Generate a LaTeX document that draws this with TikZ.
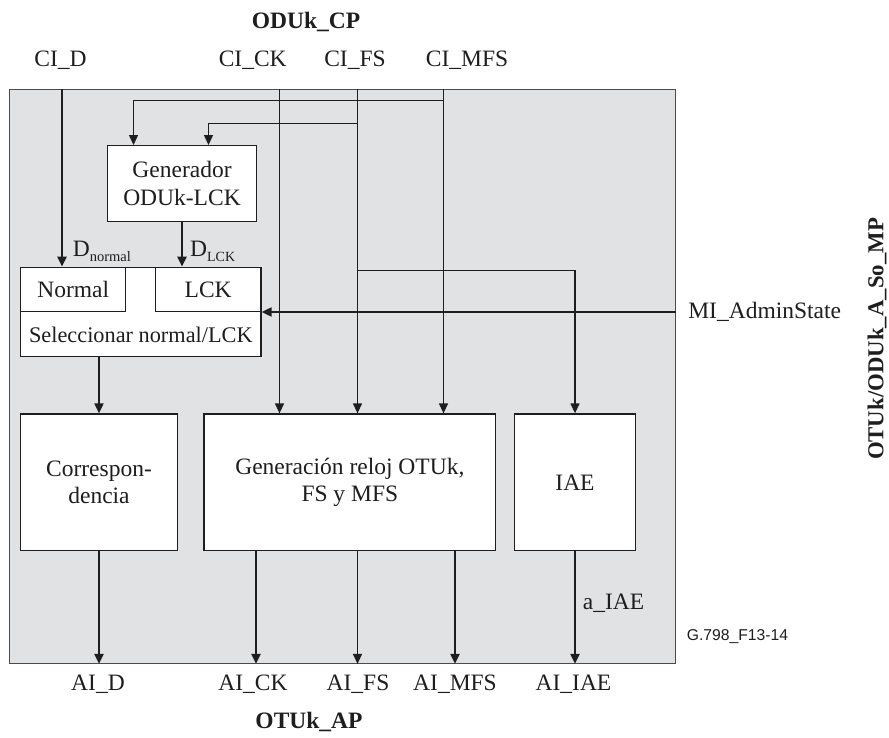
\documentclass[tikz,border=0pt]{standalone}
\usepackage{fontspec}
\setmainfont{Liberation Serif}
\newfontfamily\sansf{Liberation Sans}
\usetikzlibrary{arrows.meta}
\definecolor{bg}{RGB}{225,226,228}
\definecolor{ln}{RGB}{30,30,30}
\begin{document}
\begin{tikzpicture}[x=1pt,y=-1pt,
  every node/.style={font=\fontsize{23.5}{27.5}\selectfont, inner sep=0pt, text=ln},
  blk/.style={draw=ln, line width=1.3pt, fill=white, align=center},
  thn/.style={line width=1.3pt, draw=ln},
  arr/.style={thn, -{Triangle[length=10pt,width=9pt]}},
  thk/.style={line width=2pt, draw=ln, -{Triangle[length=10pt,width=9pt]}},
  bld/.style={font=\fontsize{23.5}{27.5}\selectfont\bfseries}]
\useasboundingbox (0,0) rectangle (889,738);

% outer frame
\node[draw=ln!80, line width=1.2pt, fill=bg, minimum width=666pt, minimum height=574pt] (outer) at (342.7,376.3) {};

% blocks
\node[blk, minimum width=149.6pt, minimum height=75.6pt] (gen) at (182,183.5) {Generador\\ODUk-LCK};
\node[blk, minimum width=240.3pt, minimum height=89.4pt] (sel) at (140.85,312) {};
\node[blk, minimum width=105pt, minimum height=44.4pt] (normal) at (73.2,289.5) {Normal};
\node[blk, minimum width=105.7pt, minimum height=44.4pt] (lck) at (208.15,289.5) {LCK};
\node[font=\fontsize{22.3}{26}\selectfont] (seltext) at (140.85,334.5) {Seleccionar normal/LCK};
\node[blk, minimum width=157.6pt, minimum height=136.6pt] (corr) at (99,482.3) {Correspon-\\dencia};
\node[blk, minimum width=291.7pt, minimum height=136.6pt] (genclk) at (349.85,482.3) {Generación reloj OTUk,\\FS y MFS};
\node[blk, minimum width=120.7pt, minimum height=136.6pt] (iae) at (575,482.3) {IAE};

% labels
\node[bld] (odukcp) at (306,21.7) {ODUk\_CP};
\node (cid) at (60.5,60) {CI\_D};
\node (cck) at (252.7,60) {CI\_CK};
\node (cfs) at (355,60) {CI\_FS};
\node (cmfs) at (467,60) {CI\_MFS};
\node (aid) at (98,684) {AI\_D};
\node (ack) at (253,684) {AI\_CK};
\node (afs) at (358,684) {AI\_FS};
\node (amfs) at (455,684) {AI\_MFS};
\node (aiae) at (573.5,684) {AI\_IAE};
\node[bld] (otukap) at (309,722) {OTUk\_AP};
\node (mi) at (764.7,312) {MI\_AdminState};
\node[font=\fontsize{22.8}{25}\selectfont\bfseries, rotate=90] (mp) at (877,339) {OTUk/ODUk\_A\_So\_MP};
\node[anchor=west] (aiaelbl) at (582.7,603.3) {a\_IAE};
\node[anchor=west, font=\sansf\fontsize{15.7}{18}\selectfont] (gfig) at (686.7,636.7) {G.798\_F13-14};
\node[anchor=base west] (dn) at (72.7,257) {D\raisebox{-4.5pt}{\fontsize{14.5}{15}\selectfont normal}};
\node[anchor=base west] (dl) at (190,257) {D\raisebox{-4.5pt}{\fontsize{14}{15}\selectfont LCK}};

% entry points on the frame
\coordinate (tD) at (62,89.3);
\coordinate (tCK) at (279.5,89.3);
\coordinate (tFS) at (357.5,89.3);
\coordinate (tMFS) at (443.5,89.3);
\coordinate (b1) at (443.5,100.5);
\coordinate (b2) at (357.5,123.5);
\coordinate (b3) at (357.5,270.5);

% connectors
\draw[thk] (tD) -- (tD |- sel.north);
\draw[arr] (tCK) -- (tCK |- genclk.north);
\draw[arr] (tFS) -- (tFS |- genclk.north);
\draw[arr] (tMFS) -- (tMFS |- genclk.north);
\draw[arr] (b1) -| ([xshift=-48.5pt]gen.north);
\draw[arr] (b2) -| ([xshift=26.5pt]gen.north);
\draw[arr] (b3) -| (iae.north);
\draw[thk] (outer.east |- sel.east) -- (sel.east);
\draw[thk] (gen.south) -- (gen.south |- lck.north);
\draw[thk] (sel.south -| corr.north) -- (corr.north);
\draw[thk] (corr.south) -- (corr.south |- outer.south);
\draw[thk] ([xshift=-93.85pt]genclk.south) -- ([xshift=-93.85pt]genclk.south |- outer.south);
\draw[arr] ([xshift=7.65pt]genclk.south) -- ([xshift=7.65pt]genclk.south |- outer.south);
\draw[thk] ([xshift=105.15pt]genclk.south) -- ([xshift=105.15pt]genclk.south |- outer.south);
\draw[thk] (iae.south) -- (iae.south |- outer.south);
\end{tikzpicture}
\end{document}
